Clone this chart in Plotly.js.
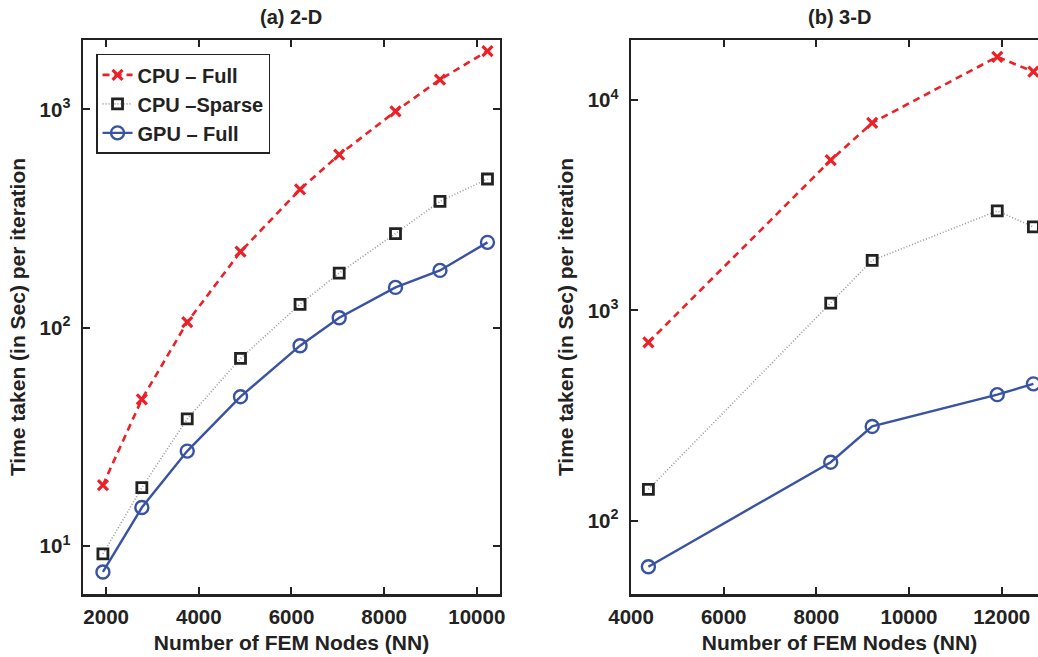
<!DOCTYPE html>
<html>
<head>
<meta charset="utf-8">
<script src="https://cdn.plot.ly/plotly-3.0.1.min.js"></script>
<style>
html, body { margin: 0; padding: 0; overflow: hidden; background: #fff; }
#chart { width: 1060px; height: 657px; }
</style>
</head>
<body>
<div id="chart"></div>
<script>
// ---- Data ----
const seriesNames = ['CPU – Full', 'CPU –Sparse', 'GPU – Full'];

// (a) 2-D
const nn2d = [1930, 2770, 3750, 4900, 6185, 7030, 8245, 9205, 10230];
const cpuFull2d = [19.0, 47, 106, 223, 430, 620, 980, 1370, 1850];
const cpuSparse2d = [9.2, 18.5, 38.2, 72.3, 128, 178, 270, 379, 480];
const gpuFull2d = [7.6, 15.0, 27.2, 48.3, 82.7, 111, 153, 183, 246];

// (b) 3-D
const nn3d = [4375, 8310, 9205, 11905, 12685];
const cpuFull3d = [706, 5180, 7800, 16070, 13650];
const cpuSparse3d = [141, 1084, 1730, 2975, 2495];
const gpuFull3d = [60.5, 190, 281, 398, 448];

const xTicks2d = [2000, 4000, 6000, 8000, 10000];
const xTicks3d = [4000, 6000, 8000, 10000, 12000];
const yTicks2d = [10, 100, 1000];
const yTicks3d = [100, 1000, 10000];

// ---- Styles ----
const RED = '#ec2027', GRAY = '#9a9a9a', BLUE = '#3953a4', INK = '#222222';
const FONT = 'Liberation Sans, Arial, Helvetica, sans-serif';

function styles(i) {
  if (i === 0) return {
    mode: 'lines+markers',
    line: {color: RED, width: 2.6, dash: '7px,5px'},
    marker: {symbol: 'x-thin-open', size: 10, color: RED, line: {color: RED, width: 3.2}}
  };
  if (i === 1) return {
    mode: 'lines+markers',
    line: {color: GRAY, width: 1.6, dash: '1px,2px'},
    marker: {symbol: 'square-open', size: 10, color: INK, line: {color: INK, width: 2.8}}
  };
  return {
    mode: 'lines+markers',
    line: {color: BLUE, width: 2.4},
    marker: {symbol: 'circle-open', size: 13, color: BLUE, line: {color: BLUE, width: 2.4}}
  };
}

const ys2d = [cpuFull2d, cpuSparse2d, gpuFull2d];
const ys3d = [cpuFull3d, cpuSparse3d, gpuFull3d];
const traces = [];
ys2d.forEach((y, i) => traces.push(Object.assign({
  x: nn2d, y: y, name: seriesNames[i], xaxis: 'x', yaxis: 'y', showlegend: true
}, styles(i))));
ys3d.forEach((y, i) => traces.push(Object.assign({
  x: nn3d, y: y, name: seriesNames[i], xaxis: 'x2', yaxis: 'y2', showlegend: false
}, styles(i))));

function sup(v) { return '10<sup>' + Math.round(Math.log10(v)) + '</sup>'; }

const tickFont = {family: FONT, size: 20.5, color: INK, weight: 'bold'};
const titleFont = {family: FONT, size: 21, color: INK, weight: 'bold'};

function xAxis(domain, range, ticks) {
  return {
    domain: domain, range: range, tickmode: 'array', tickvals: ticks,
    ticktext: ticks.map(String),
    ticks: 'inside', ticklen: 7, tickwidth: 2, tickcolor: INK,
    showline: true, linecolor: INK, linewidth: 2.5, mirror: 'allticks',
    showgrid: false, zeroline: false, tickfont: tickFont, ticklabelstandoff: 3,
    title: {text: 'Number of FEM Nodes (NN)', font: titleFont, standoff: 8}
  };
}
function yAxis(range, ticks, anchor) {
  return {
    type: 'log', range: range, anchor: anchor, tickmode: 'array', tickvals: ticks,
    ticktext: ticks.map(sup),
    ticks: 'inside', ticklen: 7, tickwidth: 2, tickcolor: INK,
    showline: true, linecolor: INK, linewidth: 2.5, mirror: 'allticks',
    showgrid: false, zeroline: false, tickfont: tickFont, ticklabelstandoff: 6,
    title: {text: 'Time taken (in Sec) per iteration', font: titleFont, standoff: 9}
  };
}

const range2d = [0.78, 3.318], range3d = [1.652, 4.286];

// Minor log ticks (2..9 per decade) on both sides of each log axis.
// Shapes on a log axis take log10 coordinates.
function minorTickShapes(xdom, yref, range) {
  const out = [];
  const lo = Math.floor(range[0]), hi = Math.ceil(range[1]);
  for (let e = lo; e <= hi; e++) {
    for (let d = 2; d <= 9; d++) {
      const lv = Math.log10(d * Math.pow(10, e));
      if (lv <= range[0] || lv >= range[1]) continue;
      [[0, 0, 4], [1, -4, 0]].forEach(([anc, a, b]) => out.push({
        type: 'line', xref: xdom, yref: yref, xsizemode: 'pixel', xanchor: anc,
        x0: a, x1: b, y0: lv, y1: lv, layer: 'above',
        line: {color: INK, width: 1.5}
      }));
    }
  }
  return out;
}

const layout = {
  width: 1060, height: 657,
  margin: {l: 83, r: 12, t: 40, b: 63},
  paper_bgcolor: '#ffffff', plot_bgcolor: '#ffffff',
  font: {family: FONT, color: INK},
  showlegend: true,
  xaxis: xAxis([0, 0.4321], [1500, 10500], xTicks2d),
  yaxis: yAxis(range2d, yTicks2d, 'x'),
  xaxis2: xAxis([0.5679, 1], [4000, 13000], xTicks3d),
  yaxis2: yAxis(range3d, yTicks3d, 'x2'),
  shapes: minorTickShapes('x domain', 'y', range2d).concat(minorTickShapes('x2 domain', 'y2', range3d)),
  legend: {
    x: 0.0135, y: 0.975, xanchor: 'left', yanchor: 'top',
    bgcolor: '#ffffff', bordercolor: INK, borderwidth: 1.5,
    font: {family: FONT, size: 20, color: INK, weight: 'bold'},
    itemwidth: 30, tracegroupgap: 0
  },
  annotations: [
    {text: '(a) 2-D', xref: 'x domain', yref: 'paper', x: 0.5, y: 1, yshift: 23, xanchor: 'center', yanchor: 'middle', showarrow: false, font: {family: FONT, size: 20, color: INK, weight: 'bold'}},
    {text: '(b) 3-D', xref: 'x2 domain', yref: 'paper', x: 0.5, y: 1, yshift: 23, xanchor: 'center', yanchor: 'middle', showarrow: false, font: {family: FONT, size: 20, color: INK, weight: 'bold'}}
  ]
};

Plotly.newPlot('chart', traces, layout, {displayModeBar: false, staticPlot: true});
</script>
</body>
</html>
